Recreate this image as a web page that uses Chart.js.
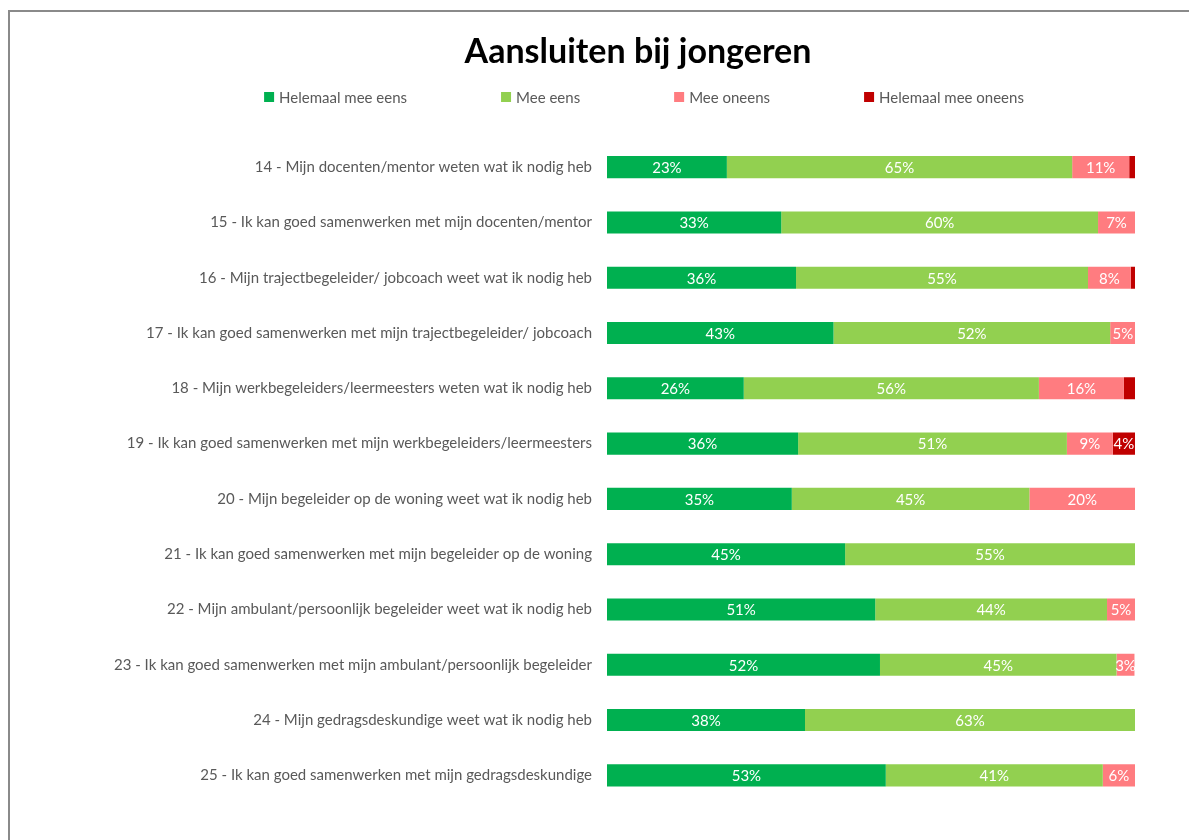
<!DOCTYPE html>
<html>
<head>
<meta charset="utf-8">
<title>Aansluiten bij jongeren</title>
<script src="https://cdn.jsdelivr.net/npm/chart.js@4.4.1/dist/chart.umd.min.js"></script>
<style>
  html, body { margin: 0; padding: 0; background: #fff; overflow: hidden; }
  #frame {
    position: absolute; left: 8px; top: 10px;
    width: 1256px; height: 860px;
    border-left: 2px solid #8a8a8a; border-top: 2px solid #8a8a8a;
    background: #fff;
  }
</style>
</head>
<body>
<div id="frame"><canvas id="myChart" width="1256" height="830"></canvas></div>
<script>
const categories = [
  '14 - Mijn docenten/mentor weten wat ik nodig heb',
  '15 - Ik kan goed samenwerken met mijn docenten/mentor',
  '16 - Mijn trajectbegeleider/ jobcoach weet wat ik nodig heb',
  '17 - Ik kan goed samenwerken met mijn trajectbegeleider/ jobcoach',
  '18 - Mijn werkbegeleiders/leermeesters weten wat ik nodig heb',
  '19 - Ik kan goed samenwerken met mijn werkbegeleiders/leermeesters',
  '20 - Mijn begeleider op de woning weet wat ik nodig heb',
  '21 - Ik kan goed samenwerken met mijn begeleider op de woning',
  '22 - Mijn ambulant/persoonlijk begeleider weet wat ik nodig heb',
  '23 - Ik kan goed samenwerken met mijn ambulant/persoonlijk begeleider',
  '24 - Mijn gedragsdeskundige weet wat ik nodig heb',
  '25 - Ik kan goed samenwerken met mijn gedragsdeskundige'
];

// percentages per answer
const helemaalEens   = [22.7, 33.0, 35.8, 42.9, 25.9, 36.2, 35.0, 45.1, 50.8, 51.7, 37.5, 52.8];
const meeEens        = [65.4, 60.0, 55.3, 52.4, 55.9, 50.9, 45.0, 54.9, 43.9, 44.8, 62.5, 41.1];
const meeOneens      = [10.8,  7.0,  8.1,  4.8, 16.1,  8.7, 20.0,  0,    5.3,  3.4,  0,    6.1];
const helemaalOneens = [ 1.1,  0,    0.8,  0,    2.1,  4.2,  0,    0,    0,    0,    0,    0  ];

const seriesNames  = ['Helemaal mee eens', 'Mee eens', 'Mee oneens', 'Helemaal mee oneens'];
const seriesColors = ['#00B050', '#92D050', '#FF7C80', '#C00000'];
const chartTitle = 'Aansluiten bij jongeren';

const FONT = 'Lato, "Open Sans", sans-serif';
const GREY = '#595959';
const CENTER_X = 628; // middle of the (wider) chart frame

// percent labels inside the segments
const segmentLabels = {
  id: 'segmentLabels',
  afterDatasetsDraw(chart) {
    const ctx = chart.ctx;
    ctx.save();
    ctx.font = '15px ' + FONT;
    ctx.fillStyle = '#ffffff';
    ctx.textAlign = 'center';
    ctx.textBaseline = 'middle';
    chart.data.datasets.forEach((ds, di) => {
      const meta = chart.getDatasetMeta(di);
      meta.data.forEach((bar, i) => {
        const v = ds.data[i];
        if (!v || v < 2.5) return;
        ctx.fillText(Math.round(v) + '%', (bar.x + bar.base) / 2, bar.y + 1);
      });
    });
    ctx.restore();
  }
};

// title + legend with even gaps between items, centred on the frame
const header = {
  id: 'header',
  afterDraw(chart) {
    const ctx = chart.ctx;
    ctx.save();
    ctx.fillStyle = '#000000';
    ctx.font = 'bold 34px ' + FONT;
    ctx.textAlign = 'center';
    ctx.textBaseline = 'middle';
    ctx.fillText(chartTitle, CENTER_X, 40);

    const box = 10, gapText = 5, gapItem = 94, y = 85;
    ctx.font = '15px ' + FONT;
    ctx.textAlign = 'left';
    const widths = seriesNames.map(n => box + gapText + ctx.measureText(n).width);
    const total = widths.reduce((a, b) => a + b, 0) + gapItem * (widths.length - 1);
    let x = CENTER_X - total / 2 + 6;
    seriesNames.forEach((n, i) => {
      ctx.fillStyle = seriesColors[i];
      ctx.fillRect(x, y - box / 2, box, box);
      ctx.fillStyle = GREY;
      ctx.fillText(n, x + box + gapText, y + 1);
      x += widths[i] + gapItem;
    });
    ctx.restore();
  }
};

const series = [helemaalEens, meeEens, meeOneens, helemaalOneens];

const config = {
  type: 'bar',
  data: {
    labels: categories,
    datasets: series.map((d, i) => ({
      label: seriesNames[i],
      data: d,
      backgroundColor: seriesColors[i],
      borderWidth: 0,
      barPercentage: 0.4,
      categoryPercentage: 1.0
    }))
  },
  options: {
    indexAxis: 'y',
    responsive: false,
    animation: false,
    devicePixelRatio: 1,
    layout: {
      padding: { left: 0, right: 131, top: 127.5, bottom: 39 }
    },
    plugins: {
      legend: { display: false },
      tooltip: { enabled: false },
      title: { display: false }
    },
    scales: {
      x: {
        stacked: true,
        min: 0,
        max: 100,
        display: false
      },
      y: {
        stacked: true,
        grid: { display: false, drawTicks: false },
        border: { display: false },
        ticks: {
          color: GREY,
          padding: 15,
          font: { family: FONT, size: 15 }
        },
        afterFit(scale) { scale.width = 597; }
      }
    }
  },
  plugins: [segmentLabels, header]
};

const myChart = new Chart(document.getElementById('myChart').getContext('2d'), config);
</script>
</body>
</html>
